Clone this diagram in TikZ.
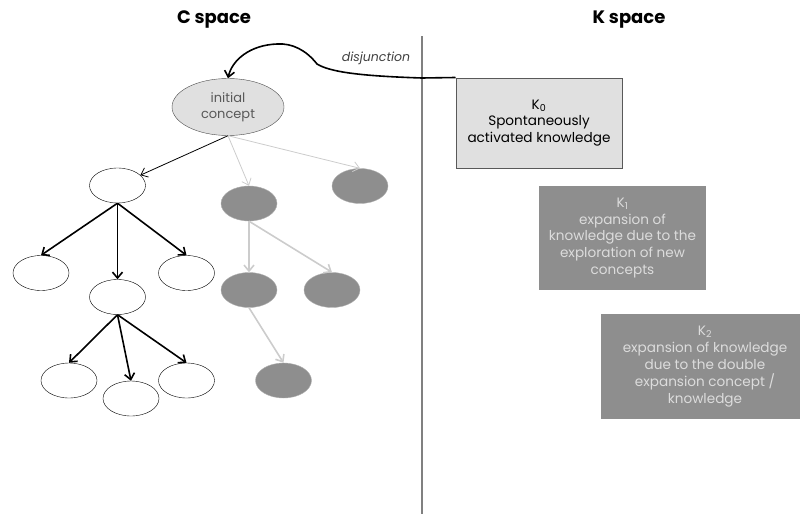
\documentclass[tikz,border=0pt]{standalone}
\usepackage{fontspec}
\setmainfont{Poppins}
\usetikzlibrary{shapes.geometric,arrows.meta}
\definecolor{lightfill}{HTML}{E0E0E0}
\definecolor{darkfill}{HTML}{8E8E8E}
\definecolor{paleline}{HTML}{CCCCCC}
\definecolor{paletext}{HTML}{DCDCDC}
\begin{document}
\begin{tikzpicture}[x=1pt, y=-1pt, >={Straight Barb[length=6pt,width=10pt]},
	concept/.style={ellipse, draw, minimum width=56pt, minimum height=35pt, inner sep=0pt},
	grayconcept/.style={concept, fill=darkfill, draw=darkfill!70!white},
	kbox/.style={rectangle, align=center, inner sep=0pt, font=\fontsize{13.6}{16.8}\selectfont},
	title/.style={font=\fontsize{18}{20}\selectfont\bfseries}]
	\useasboundingbox (0,0) rectangle (800,514);
	\node[title] (ctitle) at (214,20) {C space};
	\node[title] (ktitle) at (629,20) {K space};
	\coordinate (top) at (422,36);
	\coordinate (bottom) at (422,514);
	\draw[gray, line width=1.3pt] (top)--(bottom);
	% K side
	\node[kbox, fill=lightfill, draw=black!65, line width=1pt, minimum width=166pt, minimum height=90pt] (k0) at (539,123) {K\textsubscript{0}\\Spontaneously\\activated knowledge};
	\node[kbox, fill=darkfill, text=paletext, minimum width=167pt, minimum height=104pt] (k1) at (622.5,238) {K\textsubscript{1}\\expansion of\\knowledge due to the\\exploration of new\\concepts};
	\node[kbox, fill=darkfill, text=paletext, minimum width=208pt, minimum height=105pt] (k2) at (705,366.5) {K\textsubscript{2}\\expansion of knowledge\\due to the double\\expansion concept /\\knowledge};
	% C side
	\node[concept, fill=lightfill, draw=black!70, minimum width=112pt, minimum height=57pt, text=black!65, align=center, font=\fontsize{13}{16}\selectfont] (init) at (228,107) {initial\\concept};
	\node[concept] (a) at (117.5,185.5) {};
	\node[concept] (l) at (41,273) {};
	\node[concept] (m) at (117.5,297) {};
	\node[concept] (r) at (186.5,273) {};
	\node[concept] (ll) at (69,380.5) {};
	\node[concept] (mm) at (131,398.5) {};
	\node[concept] (rr) at (186.5,380.5) {};
	\node[grayconcept] (g1) at (249,203.5) {};
	\node[grayconcept] (g2) at (360,186) {};
	\node[grayconcept] (gl) at (249,290) {};
	\node[grayconcept] (gr) at (332,290) {};
	\node[grayconcept] (gb) at (283.5,380.5) {};
	\draw[->, line width=0.8pt] (init.south)--(a);
	\draw[->, paleline, line width=0.8pt] (init.south)--(g1.north);
	\draw[->, paleline, line width=0.8pt] (init.south)--(g2.north);
	\foreach \c in {l,m,r}
		\draw[->, line width=1.6pt] (a.south)--(\c.north);
	\foreach \c in {ll,mm,rr}
		\draw[->, line width=1.6pt] (m.south)--(\c.north);
	\foreach \c in {gl,gr}
		\draw[->, paleline, line width=1.6pt] (g1.south)--(\c.north);
	\draw[->, paleline, line width=1.6pt] (gl.south)--(gb.north);
	% disjunction
	\draw[->, line width=1.6pt] (k0.north west)--(422,78) .. controls (360,76) and (330,72) .. (317,64) .. controls (306,50) and (292,43) .. (277,44) .. controls (250,45) and (232,60) .. (init.north);
	\node[font=\fontsize{12.5}{14}\selectfont\itshape, text=black!75] (dis) at (376,58) {disjunction};
\end{tikzpicture}
\end{document}
